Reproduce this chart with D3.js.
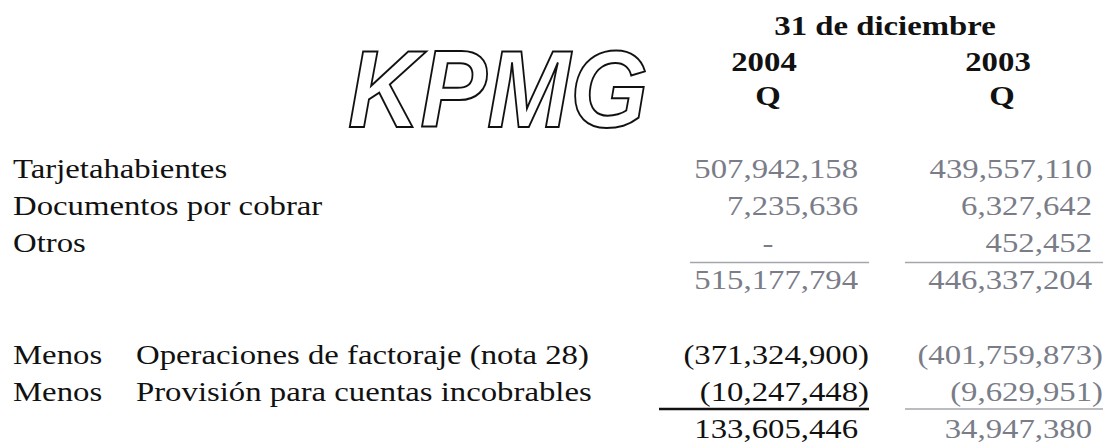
<!DOCTYPE html>
<html>
<head>
<meta charset="utf-8">
<script src="https://cdn.jsdelivr.net/npm/d3@7"></script>
<style>
  body { margin: 0; background: #fff; }
  svg { display: block; }
  text { font-family: "Liberation Serif", "Times New Roman", serif; }
</style>
</head>
<body>
<script>
// table values
var header = "31 de diciembre"
var years = ["2004", "2003"]
var currency = "Q"

var rowLabels = ["Tarjetahabientes", "Documentos por cobrar", "Otros"]
var values2004 = [507942158, 7235636, null]
var values2003 = [439557110, 6327642, 452452]
var subtotal = [515177794, 446337204]

var lessPrefix = ["Menos", "Menos"]
var lessLabels = ["Operaciones de factoraje (nota 28)", "Provisión para cuentas incobrables"]
var less2004 = [-371324900, -10247448]
var less2003 = [-401759873, -9629951]
var net = [133605446, 34947380]

var width = 1107
var height = 445
var gray = "#7a7d88"
var ink = "#111"
var fs = 28
var sx = 1.17 // the scan is wider than plain Times

var svg = d3.select("body").append("svg")
  .attr("width", width)
  .attr("height", height)

// row baselines
var rowKeys = ["r0", "r1", "r2", "sub", "gap", "l0", "l1", "net"]
var y = d3.scalePoint().domain(rowKeys).range([178, 438])

// right edge of each column (closing paren hangs here)
var colRight = d3.scaleOrdinal().domain(years).range([869, 1103])
var colMid = function (c) { return colRight(c) - 101 }

var fmt = d3.format(",")

function stretch(sel) {
  sel.attr("transform", function (d) {
    return "translate(" + d.x + "," + d.y + ") scale(" + sx + ",1)"
  })
}

function numText(v) {
  if (v == null) return "-"
  return v < 0 ? "(" + fmt(-v) + ")" : fmt(v)
}

// ---- header
svg.append("text")
  .datum({ x: (colMid(years[0]) + colMid(years[1])) / 2, y: 35 })
  .attr("text-anchor", "middle")
  .attr("font-size", fs)
  .attr("font-weight", "bold")
  .attr("fill", ink)
  .text(header)
  .call(stretch)

svg.selectAll(".year")
  .data(years.map(function (yr) { return { t: yr, x: colMid(yr) - 4, y: 71 } }))
  .enter().append("text")
  .attr("class", "year")
  .attr("text-anchor", "middle")
  .attr("font-size", fs)
  .attr("font-weight", "bold")
  .attr("fill", ink)
  .text(function (d) { return d.t })
  .call(stretch)

svg.selectAll(".cur")
  .data(years.map(function (yr) { return { t: currency, x: colMid(yr), y: 105 } }))
  .enter().append("text")
  .attr("class", "cur")
  .attr("text-anchor", "middle")
  .attr("font-size", fs)
  .attr("font-weight", "bold")
  .attr("fill", ink)
  .text(function (d) { return d.t })
  .call(stretch)

// ---- logo (outlined)
svg.append("text")
  .attr("x", 348)
  .attr("y", 127)
  .attr("font-size", 110)
  .attr("font-style", "italic")
  .attr("font-weight", "bold")
  .attr("textLength", 300)
  .attr("lengthAdjust", "spacingAndGlyphs")
  .attr("fill", "#fff")
  .attr("stroke", ink)
  .attr("stroke-width", 2)
  .style("font-family", "'Liberation Sans', Arial, sans-serif")
  .text("KPMG")

// ---- row labels
var labelData = rowLabels.map(function (t, i) { return { t: t, x: 13, y: y("r" + i) } })
rowLabels.length && lessLabels.forEach(function (t, i) {
  labelData.push({ t: lessPrefix[i], x: 13, y: y("l" + i) })
  labelData.push({ t: t, x: 136, y: y("l" + i) })
})
svg.selectAll(".lab")
  .data(labelData)
  .enter().append("text")
  .attr("class", "lab")
  .attr("font-size", fs)
  .attr("fill", ink)
  .text(function (d) { return d.t })
  .call(stretch)

// ---- numbers
var nums = []
rowLabels.forEach(function (t, i) {
  nums.push({ v: values2004[i], col: years[0], row: "r" + i, c: gray })
  nums.push({ v: values2003[i], col: years[1], row: "r" + i, c: gray })
})
nums.push({ v: subtotal[0], col: years[0], row: "sub", c: gray })
nums.push({ v: subtotal[1], col: years[1], row: "sub", c: gray })
lessLabels.forEach(function (t, i) {
  nums.push({ v: less2004[i], col: years[0], row: "l" + i, c: ink })
  nums.push({ v: less2003[i], col: years[1], row: "l" + i, c: gray })
})
nums.push({ v: net[0], col: years[0], row: "net", c: ink })
nums.push({ v: net[1], col: years[1], row: "net", c: gray })

nums.forEach(function (d) {
  d.y = y(d.row)
  d.x = d.v == null ? colMid(d.col) : colRight(d.col)
})

var numSel = svg.selectAll(".num")
  .data(nums)
  .enter().append("text")
  .attr("class", "num")
  .attr("font-size", fs)
  .attr("fill", function (d) { return d.c })
  .attr("text-anchor", function (d) { return d.v == null ? "middle" : "end" })
  .call(stretch)

numSel.append("tspan").text(function (d) { return numText(d.v) })
// invisible paren keeps positive values aligned with the bracketed ones
numSel.filter(function (d) { return d.v != null && d.v >= 0 })
  .append("tspan").attr("fill-opacity", 0).text(")")

// ---- underlines
var rules = [
  { col: years[0], y: y("sub") - 27, c: "#a4a6ae", w: 1.5, len: 179 },
  { col: years[1], y: y("sub") - 27, c: "#a4a6ae", w: 1.5, len: 198 },
  { col: years[0], y: y("net") - 29, c: ink, w: 2.5, len: 210 },
  { col: years[1], y: y("net") - 29, c: "#a4a6ae", w: 1.5, len: 198 }
]
svg.selectAll(".rule")
  .data(rules)
  .enter().append("line")
  .attr("class", "rule")
  .attr("x1", function (d) { return colRight(d.col) - d.len })
  .attr("x2", function (d) { return colRight(d.col) })
  .attr("y1", function (d) { return d.y })
  .attr("y2", function (d) { return d.y })
  .attr("stroke", function (d) { return d.c })
  .attr("stroke-width", function (d) { return d.w })
</script>
</body>
</html>
